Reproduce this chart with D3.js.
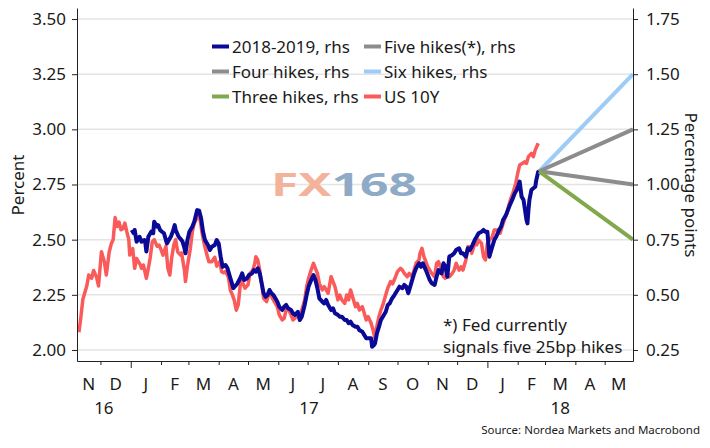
<!DOCTYPE html>
<html><head><meta charset="utf-8">
<script src="https://cdn.jsdelivr.net/npm/d3@7"></script>
<style>
html,body{margin:0;padding:0;background:#fff;}
text{font-family:"Noto Sans","Open Sans",sans-serif;fill:#1a1a1a;}
</style></head>
<body><svg id="c" width="710" height="448"></svg>
<script>
// ---------- data ----------
const us10y = [
["2016-11-09",2.08],["2016-11-11",2.15],["2016-11-13",2.23],["2016-11-17",2.29],["2016-11-19",2.34],["2016-11-22",2.325],["2016-11-24",2.36],["2016-11-27",2.33],["2016-11-29",2.29],["2016-12-02",2.445],["2016-12-05",2.40],["2016-12-07",2.34],["2016-12-10",2.445],["2016-12-12",2.48],["2016-12-14",2.50],["2016-12-16",2.60],["2016-12-18",2.56],["2016-12-20",2.58],["2016-12-22",2.545],["2016-12-24",2.55],["2016-12-26",2.575],["2016-12-28",2.535],["2016-12-30",2.50],["2016-12-31",2.43],
["2017-01-03",2.46],["2017-01-05",2.37],["2017-01-07",2.415],["2017-01-11",2.385],["2017-01-12",2.37],["2017-01-14",2.385],["2017-01-17",2.325],["2017-01-19",2.37],["2017-01-21",2.42],["2017-01-23",2.49],["2017-01-25",2.50],["2017-01-28",2.47],["2017-01-30",2.475],["2017-02-01",2.455],["2017-02-03",2.43],["2017-02-06",2.47],["2017-02-08",2.37],["2017-02-10",2.34],["2017-02-12",2.42],["2017-02-14",2.475],["2017-02-16",2.50],["2017-02-18",2.445],["2017-02-21",2.43],["2017-02-22",2.44],["2017-02-25",2.36],["2017-02-26",2.31],["2017-02-28",2.38],
["2017-03-03",2.46],["2017-03-05",2.535],["2017-03-07",2.575],["2017-03-10",2.60],["2017-03-11",2.61],["2017-03-13",2.59],["2017-03-15",2.53],["2017-03-17",2.485],["2017-03-20",2.43],["2017-03-22",2.40],["2017-03-25",2.40],["2017-03-28",2.42],["2017-03-30",2.38],["2017-04-02",2.40],["2017-04-04",2.355],["2017-04-06",2.35],["2017-04-08",2.355],["2017-04-11",2.33],["2017-04-13",2.27],["2017-04-15",2.25],["2017-04-17",2.225],["2017-04-19",2.18],["2017-04-21",2.205],["2017-04-23",2.29],["2017-04-25",2.31],["2017-04-28",2.28],
["2017-05-01",2.295],["2017-05-03",2.347],["2017-05-06",2.362],["2017-05-08",2.393],["2017-05-09",2.423],["2017-05-11",2.408],["2017-05-13",2.362],["2017-05-15",2.30],["2017-05-17",2.234],["2017-05-20",2.219],["2017-05-22",2.249],["2017-05-24",2.257],["2017-05-26",2.234],["2017-05-29",2.211],["2017-05-31",2.196],["2017-06-02",2.159],["2017-06-05",2.136],["2017-06-07",2.143],["2017-06-09",2.181],["2017-06-11",2.189],["2017-06-14",2.159],["2017-06-16",2.136],["2017-06-18",2.143],["2017-06-21",2.166],["2017-06-23",2.136],["2017-06-25",2.181],["2017-06-28",2.227],["2017-06-30",2.287],
["2017-07-02",2.325],["2017-07-04",2.355],["2017-07-07",2.393],["2017-07-09",2.37],["2017-07-11",2.347],["2017-07-13",2.302],["2017-07-16",2.272],["2017-07-18",2.287],["2017-07-20",2.272],["2017-07-22",2.257],["2017-07-25",2.332],["2017-07-27",2.31],["2017-07-29",2.287],["2017-08-01",2.227],["2017-08-03",2.249],["2017-08-05",2.227],["2017-08-08",2.211],["2017-08-10",2.249],["2017-08-12",2.227],["2017-08-14",2.272],["2017-08-16",2.241],["2017-08-19",2.196],["2017-08-21",2.211],["2017-08-23",2.181],["2017-08-26",2.196],["2017-08-28",2.166],["2017-08-30",2.136],
["2017-09-01",2.151],["2017-09-04",2.121],["2017-09-06",2.09],["2017-09-08",2.053],["2017-09-09",2.09],["2017-09-12",2.151],["2017-09-14",2.181],["2017-09-16",2.204],["2017-09-19",2.25],["2017-09-21",2.28],["2017-09-24",2.31],["2017-09-26",2.30],["2017-09-29",2.332],["2017-10-01",2.355],["2017-10-04",2.37],["2017-10-06",2.362],["2017-10-08",2.347],["2017-10-11",2.332],["2017-10-13",2.347],["2017-10-16",2.332],["2017-10-18",2.362],["2017-10-20",2.393],["2017-10-23",2.408],["2017-10-24",2.438],["2017-10-26",2.461],["2017-10-28",2.423],["2017-10-30",2.40],
["2017-11-01",2.377],["2017-11-03",2.362],["2017-11-05",2.347],["2017-11-08",2.332],["2017-11-10",2.393],["2017-11-12",2.40],["2017-11-15",2.362],["2017-11-17",2.332],["2017-11-19",2.325],["2017-11-21",2.347],["2017-11-23",2.332],["2017-11-26",2.347],["2017-11-28",2.362],["2017-11-30",2.393],["2017-12-03",2.362],["2017-12-05",2.377],["2017-12-07",2.362],["2017-12-10",2.408],["2017-12-12",2.468],["2017-12-14",2.468],["2017-12-16",2.438],["2017-12-19",2.483],["2017-12-21",2.476],["2017-12-23",2.498],["2017-12-26",2.483],["2017-12-28",2.423],["2017-12-30",2.408],
["2018-01-01",2.483],["2018-01-03",2.498],["2018-01-06",2.513],["2018-01-08",2.544],["2018-01-10",2.544],["2018-01-13",2.544],["2018-01-14",2.529],["2018-01-16",2.559],["2018-01-19",2.597],["2018-01-21",2.62],["2018-01-23",2.657],["2018-01-25",2.687],["2018-01-27",2.71],["2018-01-30",2.755],["2018-02-01",2.801],["2018-02-03",2.838],["2018-02-06",2.846],["2018-02-08",2.853],["2018-02-10",2.846],["2018-02-12",2.876],["2018-02-15",2.891],["2018-02-17",2.876],["2018-02-19",2.907],["2018-02-22",2.937]
];

// 2018-2019 implied hikes, percentage points (rhs)
const hikes20182019 = [
["2017-01-02",0.794],["2017-01-04",0.779],["2017-01-05",0.794],["2017-01-07",0.741],["2017-01-10",0.763],["2017-01-12",0.741],["2017-01-15",0.748],["2017-01-16",0.733],["2017-01-17",0.696],["2017-01-19",0.763],["2017-01-22",0.786],["2017-01-24",0.779],["2017-01-25",0.831],["2017-01-28",0.809],["2017-01-29",0.816],["2017-01-31",0.794],["2017-02-02",0.786],["2017-02-04",0.779],["2017-02-07",0.733],["2017-02-09",0.748],["2017-02-11",0.763],["2017-02-13",0.786],["2017-02-15",0.816],["2017-02-16",0.794],["2017-02-19",0.763],["2017-02-22",0.748],["2017-02-23",0.741],["2017-02-25",0.711],["2017-02-26",0.688],["2017-02-28",0.748],
["2017-03-02",0.786],["2017-03-05",0.809],["2017-03-07",0.831],["2017-03-10",0.884],["2017-03-12",0.881],["2017-03-14",0.847],["2017-03-16",0.786],["2017-03-18",0.748],["2017-03-21",0.726],["2017-03-23",0.703],["2017-03-25",0.718],["2017-03-28",0.726],["2017-03-30",0.748],["2017-04-01",0.733],["2017-04-03",0.673],["2017-04-05",0.627],["2017-04-08",0.635],["2017-04-10",0.62],["2017-04-12",0.59],["2017-04-14",0.56],["2017-04-16",0.53],["2017-04-18",0.54],["2017-04-20",0.55],["2017-04-23",0.575],["2017-04-25",0.597],["2017-04-27",0.567],["2017-04-30",0.575],
["2017-05-02",0.59],["2017-05-05",0.597],["2017-05-07",0.612],["2017-05-09",0.605],["2017-05-11",0.62],["2017-05-13",0.597],["2017-05-15",0.552],["2017-05-17",0.507],["2017-05-19",0.491],["2017-05-21",0.499],["2017-05-23",0.522],["2017-05-25",0.507],["2017-05-27",0.499],["2017-05-29",0.484],["2017-05-31",0.469],["2017-06-02",0.446],["2017-06-05",0.431],["2017-06-07",0.446],["2017-06-09",0.454],["2017-06-11",0.439],["2017-06-14",0.431],["2017-06-16",0.416],["2017-06-18",0.409],["2017-06-21",0.423],["2017-06-23",0.386],["2017-06-25",0.401],["2017-06-28",0.454],["2017-06-30",0.499],
["2017-07-02",0.537],["2017-07-04",0.56],["2017-07-07",0.59],["2017-07-09",0.567],["2017-07-11",0.53],["2017-07-13",0.484],["2017-07-16",0.469],["2017-07-18",0.461],["2017-07-20",0.477],["2017-07-22",0.454],["2017-07-25",0.431],["2017-07-27",0.439],["2017-07-29",0.416],["2017-08-01",0.409],["2017-08-03",0.401],["2017-08-05",0.401],["2017-08-08",0.386],["2017-08-10",0.386],["2017-08-12",0.371],["2017-08-14",0.378],["2017-08-16",0.363],["2017-08-19",0.355],["2017-08-21",0.355],["2017-08-23",0.34],["2017-08-26",0.333],["2017-08-28",0.318],["2017-08-30",0.303],
["2017-09-01",0.303],["2017-09-04",0.303],["2017-09-05",0.265],["2017-09-07",0.273],["2017-09-08",0.28],["2017-09-10",0.326],["2017-09-12",0.355],["2017-09-14",0.386],["2017-09-16",0.401],["2017-09-19",0.423],["2017-09-21",0.454],["2017-09-23",0.461],["2017-09-25",0.48],["2017-09-28",0.50],["2017-10-01",0.522],["2017-10-03",0.537],["2017-10-06",0.53],["2017-10-08",0.545],["2017-10-10",0.537],["2017-10-12",0.507],["2017-10-15",0.552],["2017-10-18",0.597],["2017-10-20",0.62],["2017-10-23",0.643],["2017-10-25",0.627],["2017-10-27",0.643],["2017-10-30",0.612],
["2017-11-01",0.59],["2017-11-03",0.567],["2017-11-05",0.552],["2017-11-08",0.545],["2017-11-10",0.582],["2017-11-12",0.612],["2017-11-15",0.597],["2017-11-17",0.643],["2017-11-19",0.627],["2017-11-21",0.582],["2017-11-23",0.673],["2017-11-26",0.68],["2017-11-28",0.688],["2017-11-30",0.703],["2017-12-03",0.711],["2017-12-05",0.688],["2017-12-07",0.688],["2017-12-10",0.673],["2017-12-12",0.711],["2017-12-14",0.703],["2017-12-16",0.718],["2017-12-19",0.748],["2017-12-21",0.763],["2017-12-23",0.779],["2017-12-26",0.786],["2017-12-28",0.794],["2017-12-30",0.786],
["2018-01-01",0.786],["2018-01-03",0.673],["2018-01-06",0.718],["2018-01-08",0.748],["2018-01-10",0.763],["2018-01-13",0.794],["2018-01-15",0.809],["2018-01-17",0.839],["2018-01-20",0.862],["2018-01-22",0.884],["2018-01-24",0.907],["2018-01-27",0.937],["2018-01-29",0.96],["2018-01-31",0.975],["2018-02-02",0.998],["2018-02-03",1.013],["2018-02-05",0.945],["2018-02-07",0.93],["2018-02-08",0.899],["2018-02-10",0.839],["2018-02-11",0.824],["2018-02-12",0.884],["2018-02-13",0.93],["2018-02-15",0.975],["2018-02-17",0.983],["2018-02-19",0.99],["2018-02-20",1.02],["2018-02-22",1.058],["2018-02-23",1.06]
];

const projDates  = ["2018-02-23","2018-05-30"];
const sixHikes   = [1.06, 1.50];
const fiveHikes  = [1.06, 1.25];
const fourHikes  = [1.06, 1.00];
const threeHikes = [1.06, 0.75];

const leftTicks  = [2.00, 2.25, 2.50, 2.75, 3.00, 3.25, 3.50];
const rightTicks = [0.25, 0.50, 0.75, 1.00, 1.25, 1.50, 1.75];
const monthLabels = ["N","D","J","F","M","A","M","J","J","A","S","O","N","D","J","F","M","A","M"];
const yearLabels  = ["16","17","18"];

const legendItems = [
  {label:"2018-2019, rhs",     color:"#0a0a96", col:0, row:0},
  {label:"Four hikes, rhs",    color:"#8c8c8c", col:0, row:1},
  {label:"Three hikes, rhs",   color:"#82a84c", col:0, row:2},
  {label:"Five hikes(*), rhs", color:"#8c8c8c", col:1, row:0},
  {label:"Six hikes, rhs",     color:"#9dcdf6", col:1, row:1},
  {label:"US 10Y",             color:"#fa5a5a", col:1, row:2}
];

// ---------- chart ----------
const parse = d3.timeParse("%Y-%m-%d");
const svg = d3.select("#c");
svg.append("rect").attr("width",710).attr("height",448).attr("fill","#fff");

const x0 = 77, x1 = 633, yTop = 8, yBot = 361;
const dStart = parse("2016-11-07"), dEnd = parse("2018-05-30");
const x  = d3.scaleTime().domain([dStart, dEnd]).range([x0, x1]);
const yL = d3.scaleLinear().domain([1.95, 3.55]).range([yBot, yTop]);
const yR = d3.scaleLinear().domain([0.20, 1.80]).range([yBot, yTop]);

// gridlines
svg.append("g").selectAll("line").data(leftTicks).join("line")
  .attr("x1", x0).attr("x2", x1)
  .attr("y1", d => yL(d)).attr("y2", d => yL(d))
  .attr("stroke", "#e4e4e4").attr("stroke-width", 1.5);

// watermark
const wm = svg.append("text").attr("x", 271).attr("y", 196)
  .attr("font-family", "DejaVu Sans, sans-serif").attr("font-weight", "bold")
  .attr("font-size", 33).attr("textLength", 146).attr("lengthAdjust", "spacingAndGlyphs");
wm.append("tspan").text("FX").attr("fill", "#f3b39b");
wm.append("tspan").text("168").attr("fill", "#8eaac6");

// lines
const lineL = d3.line().x(d => x(parse(d[0]))).y(d => yL(d[1]));
const lineR = d3.line().x(d => x(parse(d[0]))).y(d => yR(d[1]));

svg.append("path").datum(us10y).attr("d", lineL)
  .attr("fill", "none").attr("stroke", "#fa5a5a").attr("stroke-width", 3.5).attr("stroke-linejoin", "round");
svg.append("path").datum(hikes20182019).attr("d", lineR)
  .attr("fill", "none").attr("stroke", "#0a0a96").attr("stroke-width", 4).attr("stroke-linejoin", "round");

const projections = [
  {vals: sixHikes,   color: "#9dcdf6"},
  {vals: fiveHikes,  color: "#8c8c8c"},
  {vals: fourHikes,  color: "#8c8c8c"},
  {vals: threeHikes, color: "#82a84c"}
];
projections.forEach(p => {
  svg.append("path").datum(projDates.map((d, i) => [d, p.vals[i]])).attr("d", lineR)
    .attr("fill", "none").attr("stroke", p.color).attr("stroke-width", 4);
});

// axes
const axisStyle = g => {
  g.select(".domain").attr("stroke", "#222").attr("stroke-width", 1);
  g.selectAll(".tick line").attr("stroke", "#222");
  g.selectAll(".tick text").attr("font-family", "Noto Sans, sans-serif").attr("font-size", 17).attr("fill", "#1a1a1a");
};
svg.append("g").attr("transform", `translate(${x0},0)`)
  .call(d3.axisLeft(yL).tickValues(leftTicks).tickFormat(d3.format(".2f")).tickSizeInner(5).tickSizeOuter(0).tickPadding(6))
  .call(axisStyle);
svg.append("g").attr("transform", `translate(${x1},0)`)
  .call(d3.axisRight(yR).tickValues(rightTicks).tickFormat(d3.format(".2f")).tickSizeInner(5).tickSizeOuter(0).tickPadding(8))
  .call(axisStyle);

const monthStarts = d3.timeMonth.range(d3.timeMonth.floor(dStart), d3.timeMonth.offset(d3.timeMonth.floor(dEnd), 1));
const tickDates = monthStarts.filter(d => d > dStart);
svg.append("g").attr("transform", `translate(0,${yBot})`)
  .call(d3.axisBottom(x).tickValues(tickDates).tickFormat("").tickSizeInner(4).tickSizeOuter(0))
  .call(axisStyle)
  .selectAll(".tick line").attr("y2", d => d.getMonth() === 0 ? 7 : 4);

// month labels
svg.append("g").selectAll("text").data(monthStarts).join("text")
  .attr("x", d => {
    const a = d < dStart ? dStart : d;
    const e = d3.timeMonth.offset(d, 1);
    const b = e > dEnd ? dEnd : e;
    return (x(a) + x(b)) / 2;
  })
  .attr("y", 390).attr("text-anchor", "middle").attr("font-size", 17)
  .text((d, i) => monthLabels[i]);

// year labels
const years = [2016, 2017, 2018];
svg.append("g").selectAll("text").data(years).join("text")
  .attr("x", yr => {
    const a = new Date(yr, 0, 1), b = new Date(yr + 1, 0, 1);
    return (x(a < dStart ? dStart : a) + x(b > dEnd ? dEnd : b)) / 2;
  })
  .attr("y", 414).attr("text-anchor", "middle").attr("font-size", 17)
  .text((d, i) => yearLabels[i]);

// axis titles
svg.append("text").attr("transform", "translate(24,185) rotate(-90)")
  .attr("text-anchor", "middle").attr("font-size", 17).text("Percent");
svg.append("text").attr("transform", "translate(685,185) rotate(90)")
  .attr("text-anchor", "middle").attr("font-size", 17).text("Percentage points");

// legend
const colX = [212, 364], rowY = [46.5, 71.5, 96.5];
const lg = svg.append("g");
legendItems.forEach(it => {
  const lx = colX[it.col], ly = rowY[it.row];
  lg.append("line").attr("x1", lx).attr("x2", lx + 17).attr("y1", ly).attr("y2", ly)
    .attr("stroke", it.color).attr("stroke-width", 4);
  lg.append("text").attr("x", lx + 20).attr("y", ly + 6).attr("font-size", 17).text(it.label);
});

// annotation
svg.append("text").attr("x", 443).attr("y", 331).attr("font-size", 17).text("*) Fed currently");
svg.append("text").attr("x", 443).attr("y", 353).attr("font-size", 17).text("signals five 25bp hikes");

// source
svg.append("text").attr("x", 700).attr("y", 434).attr("text-anchor", "end")
  .attr("font-family", "Roboto, sans-serif").attr("font-size", 11.5)
  .text("Source: Nordea Markets and Macrobond");
</script></body></html>
